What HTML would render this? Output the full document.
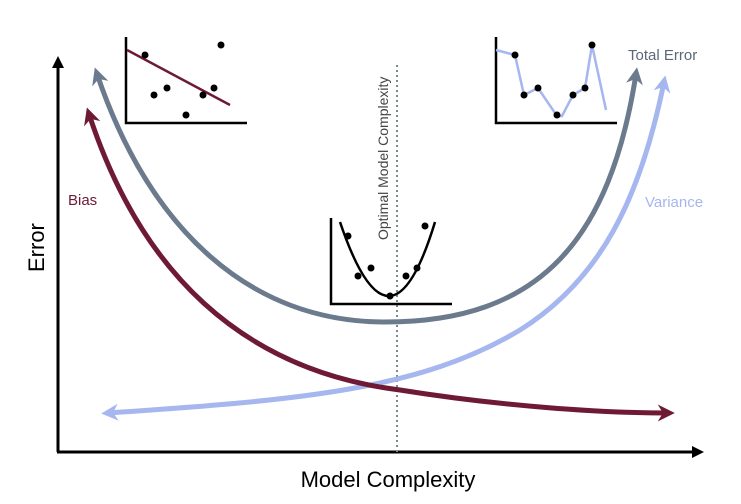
<!DOCTYPE html>
<html><head><meta charset="utf-8"><style>html,body{margin:0;padding:0;background:#fff}svg{display:block}</style></head>
<body>
<svg width="741" height="504" viewBox="0 0 741 504" xmlns="http://www.w3.org/2000/svg" font-family="Liberation Sans, sans-serif">
<defs>
<marker id="ab" viewBox="0 0 10 10" refX="5" refY="5" markerWidth="4" markerHeight="4" orient="auto-start-reverse"><path d="M0,0 L10,5 L0,10 z" fill="#000"/></marker>
<marker id="at" viewBox="0 0 10 10" refX="6" refY="5" markerWidth="3.4" markerHeight="3.4" orient="auto-start-reverse"><path d="M0,0 L10,5 L0,10 L3,5 z" fill="#6b7a8c"/></marker>
<marker id="am" viewBox="0 0 10 10" refX="6" refY="5" markerWidth="3.4" markerHeight="3.4" orient="auto-start-reverse"><path d="M0,0 L10,5 L0,10 L3,5 z" fill="#6e1a35"/></marker>
<marker id="av" viewBox="0 0 10 10" refX="6" refY="5" markerWidth="3.4" markerHeight="3.4" orient="auto-start-reverse"><path d="M0,0 L10,5 L0,10 L3,5 z" fill="#a6b6ee"/></marker>
</defs>
<line x1="58" y1="452" x2="58" y2="62" stroke="#000" stroke-width="3" marker-end="url(#ab)"/>
<line x1="57" y1="452" x2="698" y2="452" stroke="#000" stroke-width="3" marker-end="url(#ab)"/>
<line x1="397" y1="65" x2="397" y2="452" stroke="#7a8a8a" stroke-width="2" stroke-dasharray="2,3"/>
<path d="M97,74 C150,230 250,322 385,322 C540,322 610,240 636,74" fill="none" stroke="#6b7a8c" stroke-width="5" marker-start="url(#at)" marker-end="url(#at)"/>
<path d="M108,413 C300,400 420,390 520,330 C600,280 640,200 664,82" fill="none" stroke="#a6b6ee" stroke-width="5" marker-start="url(#av)" marker-end="url(#av)"/>
<path d="M89,114 C140,270 240,370 400,390 C500,406 600,413 668,413" fill="none" stroke="#6e1a35" stroke-width="5" marker-start="url(#am)" marker-end="url(#am)"/>
<g stroke="#000" stroke-width="2.5" fill="none"><path d="M126,37 V123 H247"/></g>
<line x1="127" y1="50" x2="230" y2="105" stroke="#6e1a35" stroke-width="2.5"/>
<g fill="#000"><circle cx="145" cy="55" r="3.5"/><circle cx="154" cy="95" r="3.5"/><circle cx="167" cy="88" r="3.5"/><circle cx="186" cy="115" r="3.5"/><circle cx="203" cy="95" r="3.5"/><circle cx="214" cy="88" r="3.5"/><circle cx="221" cy="45" r="3.5"/></g>
<g stroke="#000" stroke-width="2.5" fill="none"><path d="M496,37 V123 H617"/></g>
<polyline points="496,50 515,55 524,95 538,88 557,116 562,116 573,95 585,88 592,45 606,110" fill="none" stroke="#a6b6ee" stroke-width="2.5"/>
<g fill="#000"><circle cx="515" cy="55" r="3.5"/><circle cx="524" cy="95" r="3.5"/><circle cx="538" cy="88" r="3.5"/><circle cx="557" cy="115" r="3.5"/><circle cx="573" cy="95" r="3.5"/><circle cx="585" cy="88" r="3.5"/><circle cx="592" cy="45" r="3.5"/></g>
<g stroke="#000" stroke-width="2.5" fill="none"><path d="M331,218 V304 H452"/></g>
<path d="M340,222 Q390,370 435,222" fill="none" stroke="#000" stroke-width="2.5"/>
<g fill="#000"><circle cx="348" cy="236" r="3.5"/><circle cx="358" cy="276" r="3.5"/><circle cx="371" cy="268" r="3.5"/><circle cx="390" cy="296" r="3.5"/><circle cx="406" cy="276" r="3.5"/><circle cx="417" cy="268" r="3.5"/><circle cx="425" cy="226" r="3.5"/></g>
<text x="628" y="60" font-size="15" fill="#5a6878">Total Error</text>
<text x="645" y="207" font-size="15" fill="#a6b6ee">Variance</text>
<text x="68" y="205" font-size="15" fill="#6e1a35">Bias</text>
<text transform="translate(388,240) rotate(-90)" font-size="14" fill="#444">Optimal Model Complexity</text>
<text transform="translate(44,272) rotate(-90)" font-size="22" fill="#000">Error</text>
<text x="388" y="487" font-size="22" text-anchor="middle" fill="#000">Model Complexity</text>
</svg>
</body></html>
